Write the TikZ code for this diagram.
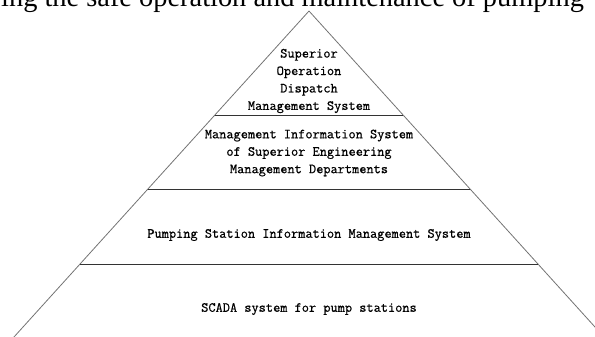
\documentclass[tikz,border=0pt]{standalone}
\usepackage{fontspec}
\setmainfont{Liberation Serif}
\newfontfamily\boxfont[FakeBold=0.6]{Latin Modern Mono}
\begin{document}
\begin{tikzpicture}[x=1bp,y=-1bp]
	\def\k{0.905}
	\tikzset{t/.style={font=\boxfont\fontsize{14}{17.5}\selectfont,align=center,inner sep=0pt},
		e/.style={draw=black!55,line width=0.8bp},
		d/.style={draw=black!80,line width=1bp}}
	\useasboundingbox(0,0)rectangle(595,336);
	\clip(0,0)rectangle(595,336);
	\path(309,11)coordinate(T);
	%%Dong chu bi cat phia tren
	\node[anchor=base west,inner sep=0pt,font=\fontsize{28.5}{30}\selectfont](cap)at(1,6){ing the safe operation and maintenance of pumping};
	\draw[e](T)--++({-\k*340},340)coordinate(BL);
	\draw[e](T)--++({\k*340},340)coordinate(BR);
	\foreach \h/\n in {104/a,178/b,253/c}
	\draw[d](T)++({-\k*\h},\h)coordinate(\n1)--++({2*\k*\h},0)coordinate(\n2);
	\path(309,81)node[t](L1){Superior\\Operation\\Dispatch\\Management System}
	(309,153)node[t](L2){Management Information System\\of Superior Engineering\\Management Departments}
	(309,235)node[t](L3){Pumping Station Information Management System}
	(309,309)node[t](L4){SCADA system for pump stations};
\end{tikzpicture}
\end{document}
